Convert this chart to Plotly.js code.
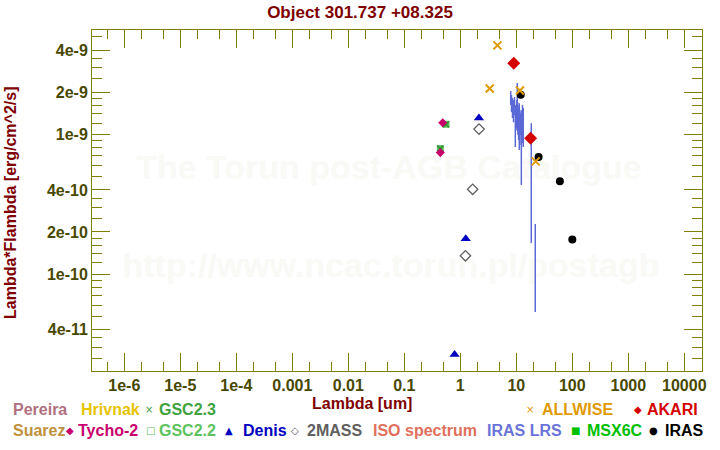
<!DOCTYPE html>
<html><head><meta charset="utf-8">
<script src="https://cdn.plot.ly/plotly-3.0.1.min.js"></script>
<style>html,body{margin:0;padding:0;background:#fff;} #chart{width:720px;height:450px;}</style>
</head><body><div id="chart"></div>
<script>
// ---------- data ----------
const allwiseWave = [3.35, 4.6, 11.6, 22.1];
const allwiseFlux = [2.13e-9, 4.33e-9, 2.06e-9, 6.4e-10];
const akariWave = [9, 18];
const akariFlux = [3.22e-9, 9.36e-10];
const irasWave = [12, 25, 60, 100];
const irasFlux = [1.92e-9, 6.88e-10, 4.61e-10, 1.77e-10];
const denisWave = [0.79, 1.25, 2.15];
const denisFlux = [2.66e-11, 1.79e-10, 1.31e-9];
const twomassWave = [1.235, 1.662, 2.159];
const twomassFlux = [1.35e-10, 4.04e-10, 1.09e-9];
const tychoWave = [0.44, 0.485];
const tychoFlux = [7.4e-10, 1.21e-9];
const gsc22Wave = [0.44, 0.555];
const gsc22Flux = [7.9e-10, 1.18e-9];
const gsc23Wave = [0.44, 0.555];
const gsc23Flux = [7.9e-10, 1.18e-9];
// IRAS LRS spectrum: per wavelength the upper and lower flux reached
const lrsWave = [7.94, 8.21, 8.55, 8.91, 9.29, 9.60, 9.88, 10.05, 10.2, 10.4, 10.55, 10.7, 10.85, 11.0, 11.15, 11.3, 11.45, 11.6, 11.8, 12.0, 12.3, 12.6, 12.9, 13.3, 18.5, 21.8];
const lrsHigh = [2.04e-9, 1.91e-9, 1.82e-9, 1.76e-9, 1.85e-9, 1.62e-9, 1.54e-9, 1.60e-9, 1.76e-9, 2.33e-9, 1.70e-9, 1.62e-9, 1.55e-9, 1.49e-9, 1.58e-9, 1.67e-9, 1.50e-9, 1.44e-9, 1.40e-9, 1.31e-9, 1.49e-9, 1.37e-9, 1.62e-9, 1.54e-9, 1.20e-9, 2.28e-10];
const lrsLow  = [1.62e-9, 1.44e-9, 1.31e-9, 1.22e-9, 1.37e-9, 8.11e-10, 1.07e-9, 1.15e-9, 1.11e-9, 1.27e-9, 1.05e-9, 9.89e-10, 1.10e-9, 9.10e-10, 1.00e-9, 7.73e-10, 1.05e-9, 8.38e-10, 1.00e-9, 9.89e-10, 4.34e-10, 9.10e-10, 8.67e-10, 8.11e-10, 1.67e-10, 5.35e-11];

const xTickVals = [1e-6, 1e-5, 1e-4, 1e-3, 1e-2, 1e-1, 1, 10, 100, 1000, 10000];
const xTickText = ['1e-6', '1e-5', '1e-4', '0.001', '0.01', '0.1', '1', '10', '100', '1000', '10000'];
const yTickVals = [4e-11, 1e-10, 2e-10, 4e-10, 1e-9, 2e-9, 4e-9];
const yTickText = ['4e-11', '1e-10', '2e-10', '4e-10', '1e-9', '2e-9', '4e-9'];

const legendNames = ['Pereira', 'Hrivnak', 'GSC2.3', 'ALLWISE', 'AKARI',
  'Suarez', 'Tycho-2', 'GSC2.2', 'Denis', '2MASS', 'ISO spectrum', 'IRAS LRS', 'MSX6C', 'IRAS'];
const legendSymbols = ['', '', '×', '×', '◆', '', '◆', '□', '▲', '◇', '', '', '■', '●'];

// ---------- styling / layout ----------
const FONT = 'Liberation Sans, Arial, Helvetica, sans-serif';
const legendColors = ['#b07080', '#e6c400', '#3fa23f', '#e09a00', '#d40000',
  '#c0903c', '#c8006e', '#5ec25e', '#0000c0', '#606060', '#e0705c', '#6a74d8', '#00c000', '#000000'];
const legendTextX = [11, 78.7, 156.7, 540, 644.5, 11, 76, 156.7, 241, 305, 370.7, 485, 585, 663];
const legendSymX  = [0, 0, 149, 530, 637.6, 0, 70, 150, 228.7, 295.3, 0, 0, 575.7, 653.7];
const legendRow   = [0, 0, 0, 0, 0, 1, 1, 1, 1, 1, 1, 1, 1, 1];
const rowY = [410, 430];

const M = {l: 92, r: 18, t: 30, b: 79};
const PW = 720 - M.l - M.r, PH = 450 - M.t - M.b;
const px = x => (x - M.l) / PW;
const py = y => (450 - M.b - y) / PH;

function segs(w, hi, lo) {
  const xs = [], ys = [];
  for (let i = 0; i < w.length; i++) { xs.push(w[i], w[i], null); ys.push(hi[i], lo[i], null); }
  return {xs, ys};
}
const lrs = segs(lrsWave, lrsHigh, lrsLow);

const traces = [
  {x: lrs.xs, y: lrs.ys, mode: 'lines', line: {color: '#5b69d6', width: 1.5}, connectgaps: false, hoverinfo: 'skip'},
  {x: gsc22Wave, y: gsc22Flux, mode: 'markers', marker: {symbol: 'square', size: 7, color: '#5ec25e'}},
  {x: gsc23Wave, y: gsc23Flux, mode: 'markers', marker: {symbol: 'x-thin', size: 6, line: {color: '#2f8f2f', width: 1.5}}},
  {x: tychoWave, y: tychoFlux, mode: 'markers', marker: {symbol: 'diamond', size: 7, color: '#c8006e'}},
  {x: twomassWave, y: twomassFlux, mode: 'markers', marker: {symbol: 'diamond-open', size: 8, color: '#606060', line: {width: 1.3}}},
  {x: denisWave, y: denisFlux, mode: 'markers', marker: {symbol: 'triangle-up', size: 9, color: '#0000c0'}},
  {x: akariWave, y: akariFlux, mode: 'markers', marker: {symbol: 'diamond', size: 10, color: '#d40000'}},
  {x: irasWave, y: irasFlux, mode: 'markers', marker: {symbol: 'circle', size: 8, color: '#000000'}},
  {x: allwiseWave, y: allwiseFlux, mode: 'markers', marker: {symbol: 'x-thin', size: 8, line: {color: '#e09a00', width: 2}}}
];

const xMinor = [], yMinor = [];
for (let e = -7; e <= 4; e++) { xMinor.push(2 * Math.pow(10, e), 5 * Math.pow(10, e)); }
const yMinorMant = [1.2, 1.4, 1.6, 1.8, 2.5, 3, 3.5, 5, 6, 7, 8, 9];
for (let e = -11; e <= -9; e++) { yMinorMant.forEach(m => yMinor.push(m * Math.pow(10, e))); }

const axisCommon = {
  type: 'log', showgrid: false, zeroline: false, showline: true, linecolor: '#808000', linewidth: 1,
  mirror: 'allticks', ticks: 'inside', ticklen: 18, tickwidth: 1, tickcolor: '#808000',
  tickmode: 'array', automargin: false,
  tickfont: {family: FONT, size: 16, color: '#484800', weight: 'bold'}
};

const annotations = [];
legendNames.forEach((n, i) => {
  const y = py(rowY[legendRow[i]]);
  if (legendSymbols[i]) {
    annotations.push({xref: 'paper', yref: 'paper', x: px(legendSymX[i]), y: y, xanchor: 'center', yanchor: 'middle',
      text: legendSymbols[i], showarrow: false, font: {family: 'DejaVu Sans', size: 10, color: legendColors[i]}});
  }
  annotations.push({xref: 'paper', yref: 'paper', x: px(legendTextX[i]), y: y, xanchor: 'left', yanchor: 'middle',
    text: n, showarrow: false, font: {family: FONT, size: 16, color: legendColors[i], weight: 'bold'}});
});
annotations.push({xref: 'paper', yref: 'paper', x: px(362), y: py(404), xanchor: 'center', yanchor: 'middle',
  text: 'Lambda [um]', showarrow: false, font: {family: FONT, size: 16, color: '#800000', weight: 'bold'}});
annotations.push({xref: 'paper', yref: 'paper', x: px(10), y: py(203), xanchor: 'center', yanchor: 'middle', textangle: -90,
  text: 'Lambda*Flambda [erg/cm^2/s]', showarrow: false, font: {family: FONT, size: 16, color: '#800000', weight: 'bold'}});

const wmFont = {family: FONT, size: 34, color: '#f9f9f6', weight: 'bold'};
const shapes = [
  {type: 'rect', xref: 'paper', yref: 'paper', x0: px(100), x1: px(678), y0: py(185), y1: py(143), layer: 'below',
   line: {width: 0}, fillcolor: 'rgba(0,0,0,0)', label: {text: 'The Torun post-AGB Catalogue', font: wmFont, textposition: 'middle center'}},
  {type: 'rect', xref: 'paper', yref: 'paper', x0: px(100), x1: px(682), y0: py(283), y1: py(241), layer: 'below',
   line: {width: 0}, fillcolor: 'rgba(0,0,0,0)', label: {text: 'http://www.ncac.torun.pl/postagb', font: wmFont, textposition: 'middle center'}}
];

const layout = {
  width: 720, height: 450, margin: M, showlegend: false,
  paper_bgcolor: '#ffffff', plot_bgcolor: 'rgba(0,0,0,0)',
  title: {text: 'Object 301.737 +08.325', x: 0.5, xref: 'container', xanchor: 'center', y: 1 - 12 / 450, yref: 'container', yanchor: 'middle',
    font: {family: FONT, size: 17, color: '#800000', weight: 'bold'}},
  xaxis: Object.assign({}, axisCommon, {range: [-6.577, 4.316], tickvals: xTickVals, ticktext: xTickText,
    minor: {tickmode: 'array', tickvals: xMinor, ticks: 'inside', ticklen: 9, tickwidth: 1, tickcolor: '#808000', showgrid: false}}),
  yaxis: Object.assign({}, axisCommon, {range: [-10.694, -8.2534], tickvals: yTickVals, ticktext: yTickText,
    minor: {tickmode: 'array', tickvals: yMinor, ticks: 'inside', ticklen: 10, tickwidth: 1, tickcolor: '#808000', showgrid: false}}),
  annotations: annotations, shapes: shapes
};

Plotly.newPlot('chart', traces, layout, {displayModeBar: false, staticPlot: true});
</script></body></html>
